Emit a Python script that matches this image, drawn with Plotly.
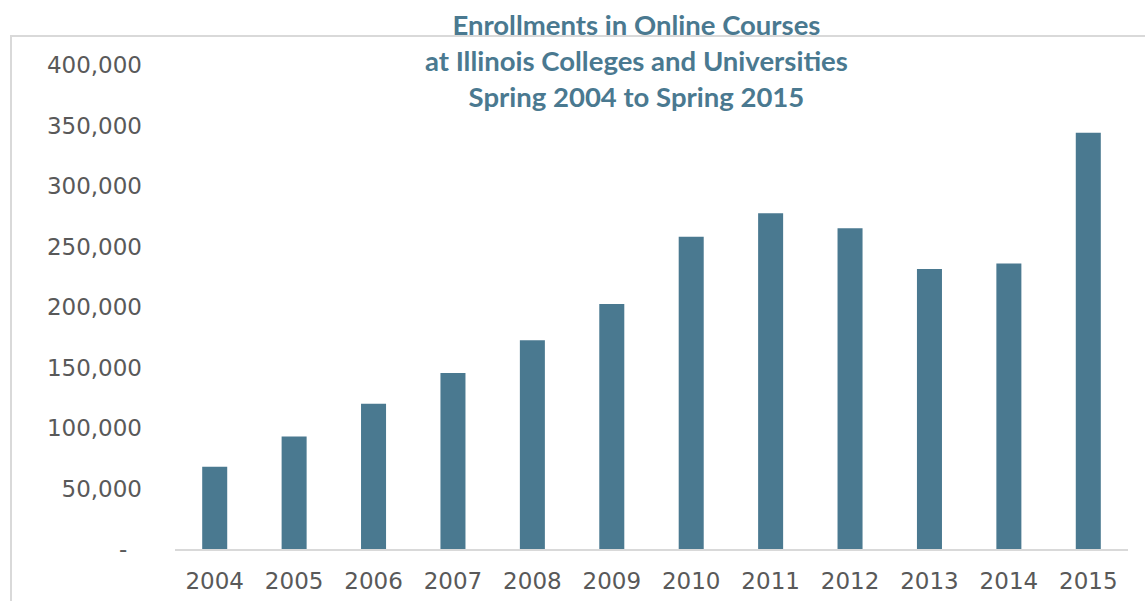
import plotly.graph_objects as go

years = ["2004", "2005", "2006", "2007", "2008", "2009", "2010", "2011", "2012", "2013", "2014", "2015"]
enrollments = [68000, 93000, 120000, 145500, 172500, 202500, 258000, 277500, 265000, 231500, 236000, 344000]
ytick_vals = [0, 50000, 100000, 150000, 200000, 250000, 300000, 350000, 400000]
ytick_text = ["-\u00a0\u00a0", "50,000", "100,000", "150,000", "200,000", "250,000", "300,000", "350,000", "400,000"]
title_text = "Enrollments in Online Courses<br>at Illinois Colleges and Universities<br>Spring 2004 to Spring 2015"

BAR = "#4a7990"
TXT = "#595959"
TITLE = "#4a7990"

W, H = 1145, 601
L, R, T, B = 175, 17, 65, 52
PW, PH = W - L - R, H - T - B

fig = go.Figure(go.Bar(x=years, y=enrollments, marker=dict(color=BAR, line=dict(width=0)), width=0.315))

fig.update_layout(
    width=W, height=H,
    margin=dict(l=L, r=R, t=T, b=B, autoexpand=False),
    paper_bgcolor="white", plot_bgcolor="white",
    showlegend=False,
    font=dict(family="DejaVu Sans", size=23, color=TXT),
)
fig.update_xaxes(showgrid=False, showline=True, linecolor="#d9d9d9", linewidth=2, automargin=False,
                 ticks="", tickfont=dict(size=23, color=TXT), ticklabelstandoff=10)
fig.update_yaxes(range=[0, 400000], showgrid=False, zeroline=False, showline=False, automargin=False,
                 tickvals=ytick_vals, ticktext=ytick_text, ticks="",
                 tickfont=dict(size=23, color=TXT), ticklabelstandoff=32)

fig.add_shape(type="rect", xref="paper", yref="paper",
              x0=(11 - L) / PW, x1=(W + 20 - L) / PW,
              y0=(H - B - (H + 20)) / PH, y1=(H - B - 36) / PH,
              line=dict(color="#d9d9d9", width=2), fillcolor="rgba(0,0,0,0)", layer="below")

fig.add_annotation(text=title_text, xref="paper", yref="paper",
                   x=(636 - L) / PW, y=(H - B - 6) / PH, xanchor="center", yanchor="top",
                   showarrow=False, align="center",
                   font=dict(family="Lato", size=27.5, color=TITLE, weight="bold"))

fig.write_html("out.html", config={"displayModeBar": False},
               post_script="document.body.style.margin='0';document.body.style.padding='0';")
